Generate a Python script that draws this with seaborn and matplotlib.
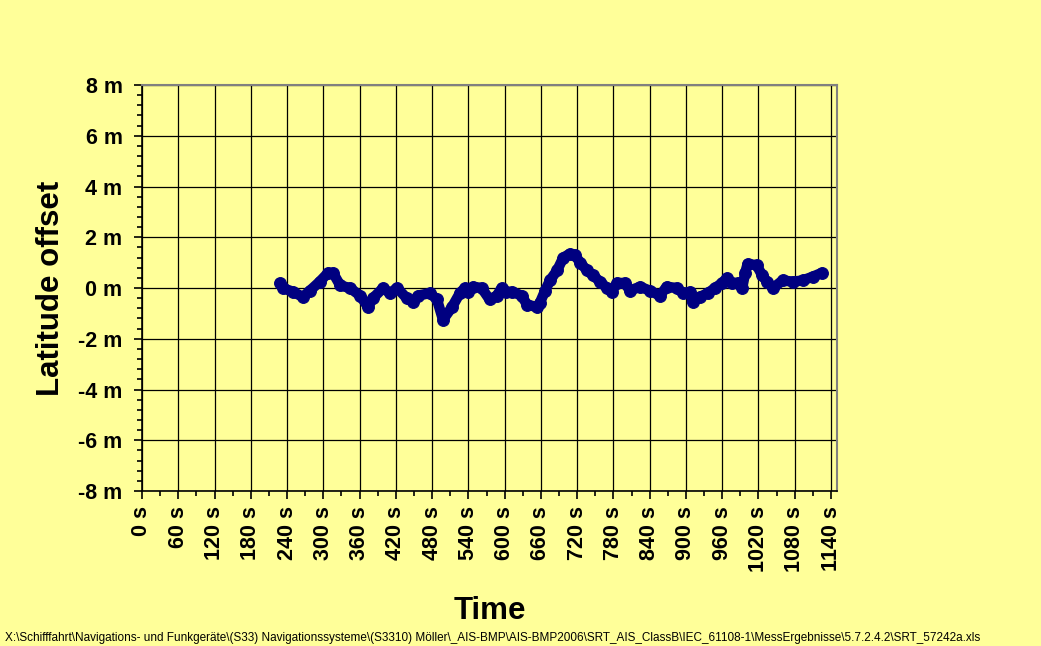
import matplotlib
matplotlib.use("Agg")
import matplotlib.pyplot as plt
from matplotlib.ticker import MultipleLocator, FuncFormatter
import pandas as pd
import seaborn as sns

# Measured latitude offset over time
time_s = [228, 233, 250, 266, 278, 294, 308, 316, 328, 344, 361, 374, 382, 399,
          410, 422, 438, 448, 457, 476, 488, 498, 513, 526, 534, 540, 548, 562,
          575, 587, 595, 603, 613, 628, 637, 653, 658, 667, 675, 687, 697, 708,
          716, 725, 736, 746, 758, 769, 777, 786, 799, 807, 824, 840, 857, 868,
          885, 895, 907, 911, 923, 936, 948, 960, 968, 976, 986, 993, 998, 1002,
          1017, 1026, 1034, 1044, 1060, 1077, 1093, 1110, 1125]
lat_offset_m = [0.2, 0.0, -0.15, -0.35, -0.1, 0.25, 0.6, 0.6, 0.1, 0.0, -0.3, -0.75,
                -0.4, 0.0, -0.2, 0.0, -0.4, -0.55, -0.3, -0.2, -0.45, -1.25, -0.75,
                -0.2, 0.0, -0.15, 0.05, 0.0, -0.45, -0.3, 0.0, -0.15, -0.15, -0.3,
                -0.65, -0.75, -0.6, -0.1, 0.3, 0.7, 1.2, 1.35, 1.3, 1.0, 0.7, 0.5,
                0.25, 0.0, -0.15, 0.2, 0.2, -0.1, 0.05, -0.1, -0.3, 0.05, 0.0, -0.2,
                -0.15, -0.55, -0.35, -0.2, 0.0, 0.2, 0.4, 0.2, 0.2, 0.0, 0.6, 0.95,
                0.9, 0.5, 0.25, 0.0, 0.3, 0.25, 0.3, 0.45, 0.6]

x_ticks = list(range(0, 1141, 60))
y_ticks = list(range(-8, 9, 2))

footer = (r"X:\Schifffahrt\Navigations- und Funkgeräte\(S33) Navigationssysteme"
          r"\(S3310) Möller\_AIS-BMP\AIS-BMP2006\SRT_AIS_ClassB\IEC_61108-1"
          r"\MessErgebnisse\5.7.2.4.2\SRT_57242a.xls")

BG = "#FFFF99"
NAVY = "#000080"

sns.set_theme(style="white")
plt.rcParams["font.family"] = ["Liberation Sans", "DejaVu Sans"]
plt.rcParams.update({
    "text.color": "black",
    "axes.labelcolor": "black",
    "xtick.color": "black",
    "ytick.color": "black",
})

df = pd.DataFrame({"Time": time_s, "Latitude offset": lat_offset_m})

fig = plt.figure(figsize=(10.41, 6.46), dpi=100, facecolor=BG)
ax = fig.add_axes([0.1364, 0.2399, 0.6677, 0.6285], facecolor=BG)

sns.lineplot(data=df, x="Time", y="Latitude offset", ax=ax, color=NAVY,
             linewidth=7.5, marker="o", markersize=8.5, markeredgecolor=NAVY,
             markerfacecolor=NAVY, zorder=5,
             solid_capstyle="round", solid_joinstyle="round")

ax.set_xlim(0, 1150)
ax.set_ylim(-8, 8)
ax.set_xticks(x_ticks)
ax.set_yticks(y_ticks)
ax.xaxis.set_minor_locator(MultipleLocator(30))
ax.yaxis.set_minor_locator(MultipleLocator(0.4))
ax.xaxis.set_major_formatter(FuncFormatter(lambda v, p: f"{int(v)} s"))
ax.yaxis.set_major_formatter(FuncFormatter(lambda v, p: f"{int(v)} m"))

ax.grid(True, which="major", color="black", linewidth=0.9)
ax.set_axisbelow(True)

for side in ("left", "bottom"):
    ax.spines[side].set_color("black")
    ax.spines[side].set_linewidth(1.2)
for side in ("top", "right"):
    ax.spines[side].set_color("#808080")
    ax.spines[side].set_linewidth(1.5)

ax.tick_params(axis="both", which="major", direction="out", length=6, width=1.2,
               color="black", labelcolor="black", left=True, bottom=True,
               labelsize=15.5)
ax.tick_params(axis="both", which="minor", direction="out", length=3.5, width=1.2,
               color="black", left=True, bottom=True)
ax.tick_params(axis="y", which="major", pad=8)
ax.tick_params(axis="x", which="major", pad=5)
for lbl in ax.get_xticklabels():
    lbl.set_rotation(90)
    lbl.set_fontweight("bold")
for lbl in ax.get_yticklabels():
    lbl.set_fontweight("bold")

ax.set_xlabel("Time", fontsize=22.5, fontweight="bold", labelpad=17,
              color="black")
ax.set_ylabel("Latitude offset", fontsize=22.5, fontweight="bold", labelpad=9,
              color="black")

fig.text(0.005, 0.003, footer, fontsize=8.45, color="black", ha="left",
         va="bottom")

fig.savefig("out.png", dpi=100, facecolor=BG)
